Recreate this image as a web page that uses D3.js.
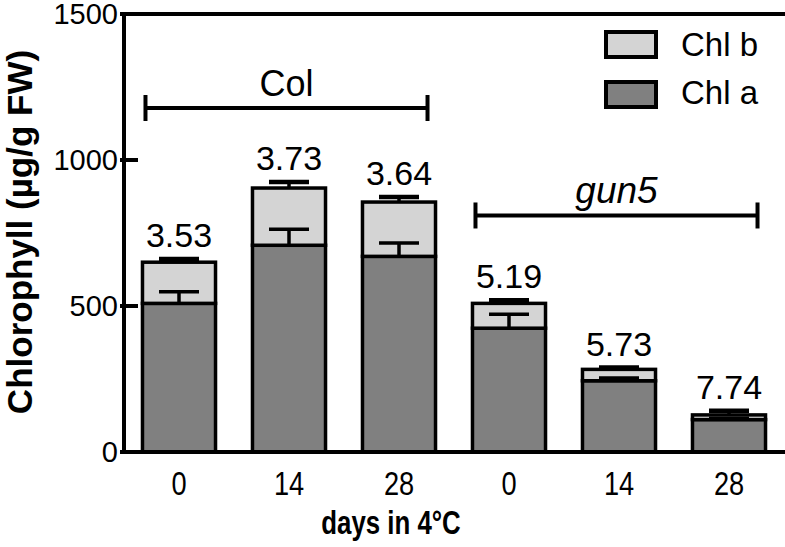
<!DOCTYPE html>
<html><head><meta charset="utf-8">
<script src="https://cdn.jsdelivr.net/npm/d3@7"></script>
<style>
html,body{margin:0;padding:0;background:#fff;}
text{font-family:"Liberation Sans",Arial,Helvetica,sans-serif;fill:#000;}
</style></head>
<body>
<svg id="chart" width="785" height="547"></svg>
<script>
// ---- data ----
const categories = ["Col-0","Col-14","Col-28","gun5-0","gun5-14","gun5-28"];
const tickLabels = ["0","14","28","0","14","28"];
const chlA = [509, 708, 670, 424, 244, 111];
const chlB = [141, 196, 186, 85, 39, 16];
const errA = [40, 55, 46, 48, 9, 5];
const errTotal = [11, 21, 17, 11, 6, 14];
const ratioLabels = ["3.53","3.73","3.64","5.19","5.73","7.74"];
const groups = ["Col","gun5"];
const groupMembers = [[0,2],[3,5]];
const groupLevels = [1178, 810];
const yTicks = [0, 500, 1000, 1500];
const legendLabels = ["Chl b","Chl a"];

// ---- styles ----
const colA = "#808080", colB = "#d4d4d4";
const svg = d3.select("#chart");
const x0 = 124, x1 = 784, yBase = 452, yTop = 14;

const x = d3.scaleBand().domain(categories).range([x0, x1]).paddingInner(0.336).paddingOuter(0.168);
const y = d3.scaleLinear().domain([0, 1500]).range([yBase, yTop]);
const bw = x.bandwidth();

// bars
const g = svg.append("g");
categories.forEach((c, i) => {
  const total = chlA[i] + chlB[i];
  g.append("rect").attr("x", x(c)).attr("y", y(chlA[i])).attr("width", bw).attr("height", y(0) - y(chlA[i]))
    .attr("fill", colA).attr("stroke", "#000").attr("stroke-width", 3.5);
  g.append("rect").attr("x", x(c)).attr("y", y(total)).attr("width", bw).attr("height", y(chlA[i]) - y(total))
    .attr("fill", colB).attr("stroke", "#000").attr("stroke-width", 3.5);
});
// error bars
categories.forEach((c, i) => {
  const cx = x(c) + bw / 2;
  const total = chlA[i] + chlB[i];
  const eb = [[chlA[i], errA[i], 3.5], [total, errTotal[i], 4.5]];
  eb.forEach(([v, e, sw]) => {
    g.append("line").attr("x1", cx).attr("x2", cx).attr("y1", y(v)).attr("y2", y(v + e))
      .attr("stroke", "#000").attr("stroke-width", 3.5);
    g.append("line").attr("x1", cx - 20).attr("x2", cx + 20).attr("y1", y(v + e)).attr("y2", y(v + e))
      .attr("stroke", "#000").attr("stroke-width", sw);
  });
  g.append("text").attr("x", cx).attr("y", y(total + errTotal[i]) - 12)
    .attr("text-anchor", "middle").attr("font-size", 34).text(ratioLabels[i]);
});

// axes
svg.append("line").attr("x1", x0).attr("x2", x0).attr("y1", y(0)+2).attr("y2", y(1500)-2).attr("stroke", "#000").attr("stroke-width", 4);
svg.append("line").attr("x1", x0-2).attr("x2", 785).attr("y1", y(0)).attr("y2", y(0)).attr("stroke", "#000").attr("stroke-width", 4);
svg.append("line").attr("x1", x0-2).attr("x2", 785).attr("y1", y(1500)).attr("y2", y(1500)).attr("stroke", "#000").attr("stroke-width", 4);
yTicks.forEach(t => {
  svg.append("line").attr("x1", x0 - 4).attr("x2", x0 + 14).attr("y1", y(t)).attr("y2", y(t)).attr("stroke", "#000").attr("stroke-width", 4);
  svg.append("text").attr("x", x0 - 6).attr("y", y(t)).attr("dy", "0.36em").attr("text-anchor", "end")
    .attr("font-size", 29).text(t);
});
categories.forEach((c, i) => {
  const cx = x(c) + bw / 2;
  svg.append("text").attr("transform", `translate(${cx},495) scale(0.8,1)`).attr("text-anchor", "middle")
    .attr("font-size", 34).text(tickLabels[i]);
});
svg.append("text").attr("transform", "translate(391,534) scale(0.76,1)").attr("text-anchor", "middle")
  .attr("font-size", 34).attr("font-weight", "bold").text("days in 4°C");
svg.append("text").attr("transform", "translate(32,232) rotate(-90)").attr("text-anchor", "middle")
  .attr("font-size", 35).attr("font-weight", "bold").text("Chlorophyll (µg/g FW)");

// group brackets
groups.forEach((name, k) => {
  const [a, b] = groupMembers[k];
  const xl = x(categories[a]) + 3, xr = x(categories[b]) + bw - 8;
  const yy = y(groupLevels[k]);
  svg.append("line").attr("x1", xl).attr("x2", xr).attr("y1", yy).attr("y2", yy).attr("stroke", "#000").attr("stroke-width", 4);
  [xl, xr].forEach(xx => svg.append("line").attr("x1", xx).attr("x2", xx).attr("y1", yy - 13).attr("y2", yy + 13)
    .attr("stroke", "#000").attr("stroke-width", 4));
  svg.append("text").attr("x", (xl + xr) / 2).attr("y", yy - 12).attr("text-anchor", "middle")
    .attr("font-size", k === 1 ? 37 : 36).attr("font-style", k === 1 ? "italic" : "normal").text(name);
});

// legend
[colB, colA].forEach((col, i) => {
  svg.append("rect").attr("x", 606).attr("y", 32 + i * 50).attr("width", 50).attr("height", 25)
    .attr("fill", col).attr("stroke", "#000").attr("stroke-width", 4);
  svg.append("text").attr("x", 681).attr("y", 56 + i * 48).attr("font-size", 33).text(legendLabels[i]);
});
</script>
</body></html>
